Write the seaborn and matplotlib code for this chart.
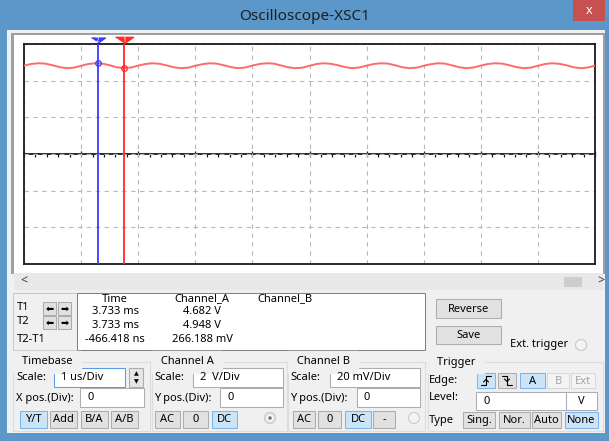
import numpy as np
import pandas as pd
import matplotlib
matplotlib.use("Agg")
import matplotlib.pyplot as plt
import matplotlib.transforms as mtransforms
from matplotlib.patches import Rectangle, Circle
import seaborn as sns

# Channel A trace, one sample every 1/8 us over the 10 screen divisions
SAMPLE_STEP_US = 0.125
chan_a_volts = [
    4.82, 4.91, 4.95, 4.93, 4.84, 4.74, 4.68, 4.71,
    4.81, 4.91, 4.95, 4.93, 4.84, 4.73, 4.68, 4.72,
    4.82, 4.91, 4.95, 4.92, 4.83, 4.73, 4.68, 4.71,
    4.81, 4.90, 4.95, 4.93, 4.84, 4.74, 4.68, 4.72,
    4.82, 4.91, 4.95, 4.93, 4.83, 4.73, 4.68, 4.71,
    4.81, 4.91, 4.95, 4.92, 4.84, 4.74, 4.68, 4.72,
    4.82, 4.91, 4.95, 4.93, 4.84, 4.73, 4.68, 4.71,
    4.81, 4.90, 4.95, 4.93, 4.83, 4.73, 4.68, 4.72,
    4.82, 4.91, 4.95, 4.93, 4.84, 4.74, 4.68, 4.71,
    4.81, 4.91, 4.95, 4.92, 4.84, 4.73, 4.68, 4.72,
    4.82,
]
time_us = np.arange(len(chan_a_volts)) * SAMPLE_STEP_US

# Cursors (T1 red, T2 blue), position on screen in us
cursor_t1_us = 1.76
cursor_t2_us = 1.29
cursor_t1_volts = 4.682
cursor_t2_volts = 4.948

# Readout table
readout_headers = ["Time", "Channel_A", "Channel_B"]
readout_rows = ["T1", "T2", "T2-T1"]
readout_time = ["3.733 ms", "3.733 ms", "-466.418 ns"]
readout_chan_a = ["4.682 V", "4.948 V", "266.188 mV"]

# Panel settings
timebase_scale = "1 us/Div"
chan_a_scale = "2  V/Div"
chan_b_scale = "20 mV/Div"
x_pos = "0"
y_pos_a = "0"
y_pos_b = "0"
trigger_level = "0"
trigger_unit = "V"

VOLTS_PER_DIV = 2
X_DIVS = 10
Y_DIVS = 6

FRAME = "#5b98c9"
PANEL = "#f0f0f0"
TRACE = "#ff6b6b"

sns.set_theme(style="white")
plt.rcParams["font.family"] = ["Noto Sans", "DejaVu Sans"]

fig = plt.figure(figsize=(6.09, 4.41), dpi=100)
fig.patch.set_facecolor(FRAME)

# background axes in pixel units for the window chrome
bg = fig.add_axes([0, 0, 1, 1])
bg.set_xlim(0, 609)
bg.set_ylim(441, 0)
bg.axis("off")


def box(x0, y0, x1, y1, fc, ec="none", lw=0.75, z=1):
    bg.add_patch(Rectangle((x0, y0), x1 - x0, y1 - y0, facecolor=fc,
                           edgecolor=ec, linewidth=lw, zorder=z))


def label(x, y, s, ha="left", color="black", size=8, z=3, **kw):
    bg.text(x, y, s, ha=ha, va="center", color=color, fontsize=size, zorder=z, **kw)


def button(x0, y0, x1, y1, s, state="normal"):
    if state == "pressed":
        fc, ec, tc = "#cce4f7", "#7eb4ea", "black"
    elif state == "disabled":
        fc, ec, tc = "#f4f4f4", "#d9d9d9", "#a6a6a6"
    else:
        fc, ec, tc = "#e1e1e1", "#adadad", "black"
    box(x0, y0, x1, y1, fc, ec, z=2)
    label((x0 + x1) / 2, (y0 + y1) / 2 + 0.5, s, ha="center", color=tc)


def entry(x0, y0, x1, y1, s, focus=False):
    box(x0, y0, x1, y1, "white", "#569de5" if focus else "#abadb3", z=2)
    label(x0 + 7, (y0 + y1) / 2, s)


def group(x0, y0, x1, y1, title):
    box(x0, y0, x1, y1, "none", "#dcdcdc", z=1)
    label(x0 + 6, y0, " " + title + " ", backgroundcolor=PANEL)


# window body
box(7, 30, 605, 433, PANEL, z=0)
label(305, 16, "Oscilloscope-XSC1", ha="center", size=11, color="#1e1e1e")
box(573, 0, 605, 21, "#c75050")
label(589, 10, "x", ha="center", color="white", size=9, fontweight="bold")

# screen surround and scrollbar
box(11, 33, 605, 274, "#a0a0a0")
box(14, 35, 603, 273, "white")
box(14, 273, 603, 290, "#e8e8e8")
label(20, 281, "<", size=9, color="#404040", fontweight="bold")
label(597, 281, ">", size=9, color="#404040", fontweight="bold")
box(564, 277, 582, 287, "#cdcdcd")

# scope screen
ax = fig.add_axes([24 / 609, 1 - 264 / 441, 571 / 609, 220 / 441])
ax.set_facecolor("white")
trace = pd.DataFrame({"time_us": time_us, "volts": chan_a_volts})
sns.lineplot(data=trace, x="time_us", y="volts", ax=ax, color=TRACE,
             linewidth=1.4, zorder=3)
ax.set_xlim(0, X_DIVS)
ax.set_ylim(-VOLTS_PER_DIV * Y_DIVS / 2, VOLTS_PER_DIV * Y_DIVS / 2)
ax.set_xticks(np.arange(0, X_DIVS + 1))
ax.set_yticks(np.arange(-Y_DIVS // 2, Y_DIVS // 2 + 1) * VOLTS_PER_DIV)
ax.tick_params(length=0, labelbottom=False, labelleft=False)
ax.grid(True, color="#b8b8b8", linestyle=(0, (4, 4)), linewidth=0.8)
ax.set_xlabel("")
ax.set_ylabel("")
for sp in ax.spines.values():
    sp.set_visible(True)
    sp.set_color("#1a1a1a")
    sp.set_linewidth(1.3)

# center axis with division ticks
mid = ax.secondary_xaxis(0.5)
mid.set_alignment("bottom")
mid.set_xticks(np.arange(0, X_DIVS + 1))
mid.set_xticks(np.arange(0, X_DIVS + 0.01, 0.2), minor=True)
mid.tick_params(which="major", direction="inout", length=5, width=0.9,
                color="#1a1a1a", labelbottom=False, labeltop=False)
mid.tick_params(which="minor", direction="out", length=2.2, width=0.9,
                color="#1a1a1a")
mid.set_xticklabels([])
for sp in mid.spines.values():
    sp.set_color("#1a1a1a")
    sp.set_linewidth(1.3)

# cursors
top = ax.get_xaxis_transform() + mtransforms.ScaledTranslation(0, 0.04, fig.dpi_scale_trans)
tri = [(-1, 0.35), (1, 0.35), (0, -0.35)]
for t, v, col, name, ms in [(cursor_t2_us, cursor_t2_volts, "#3a3aff", "2", 10),
                            (cursor_t1_us, cursor_t1_volts, "#ff2a2a", "1", 13)]:
    ax.axvline(t, color=col, linewidth=1.3, zorder=4)
    ax.plot([t], [1], marker=tri, markersize=ms, color=col, transform=top,
            clip_on=False, zorder=5)
    ax.text(t, 1, name, transform=top, ha="center", va="center",
            color="white", fontsize=4.5, fontweight="bold", zorder=6, clip_on=False)
    ax.plot([t], [v], marker="o", markersize=4, mfc="none", mec=col,
            mew=0.9, zorder=5)

# readout area
box(13, 293, 77, 350, PANEL, "#c8c8c8")
box(77, 293, 425, 350, "white", "#828282")
row_y = [311, 325, 339]
for name, y in zip(readout_rows, [308, 322, 339]):
    label(17, y, name)
for y in [308, 322]:
    for x0 in [43, 58]:
        button(x0, y - 6, x0 + 13, y + 7, "")
    label(49.5, y + 0.5, "\u2b05", ha="center", size=7, family=["DejaVu Sans"])
    label(64.5, y + 0.5, "\u27a1", ha="center", size=7, family=["DejaVu Sans"])
for x, h in zip([115, 202, 285], readout_headers):
    label(x, 299, h, ha="center")
for y, tv, av in zip(row_y, readout_time, readout_chan_a):
    label(115, y, tv, ha="center")
    label(202, y, av, ha="center")

button(436, 299, 501, 318, "Reverse")
button(436, 326, 501, 344, "Save")
label(510, 345, "Ext. trigger")
bg.add_patch(Circle((581, 345), 5.5, facecolor="#f4f4f4", edgecolor="#c8c8c8",
                    linewidth=0.8, zorder=2))

# timebase
group(13, 362, 150, 431, "Timebase")
label(16, 378, "Scale:")
entry(54, 368, 125, 387, timebase_scale, focus=True)
box(129, 368, 143, 387, "#e6e6e6", "#adadad", z=2)
label(136, 373.5, "\u25b2", ha="center", size=4.5)
label(136, 381.5, "\u25bc", ha="center", size=4.5)
label(16, 398, "X pos.(Div):")
entry(80, 388, 144, 407, x_pos)
button(20, 411, 47, 428, "Y/T", "pressed")
button(50, 411, 77, 428, "Add")
button(81, 411, 108, 428, "B/A")
button(111, 411, 138, 428, "A/B")

# channel A
group(152, 362, 287, 431, "Channel A")
label(154, 378, "Scale:")
entry(193, 368, 283, 387, chan_a_scale)
label(154, 398, "Y pos.(Div):")
entry(220, 388, 283, 407, y_pos_a)
button(155, 411, 180, 428, "AC")
button(183, 411, 208, 428, "0")
button(212, 411, 237, 428, "DC", "pressed")
bg.add_patch(Circle((270, 418), 5.5, facecolor="#e6e6e6", edgecolor="#c8c8c8",
                    linewidth=0.8, zorder=2))
bg.add_patch(Circle((270, 418), 2.5, facecolor="#6e6e6e", zorder=3))

# channel B
group(288, 362, 425, 431, "Channel B")
label(290, 378, "Scale:")
entry(330, 368, 420, 387, chan_b_scale)
label(290, 398, "Y pos.(Div):")
entry(357, 388, 420, 407, y_pos_b)
button(293, 411, 315, 428, "AC")
button(318, 411, 341, 428, "0")
button(345, 411, 371, 428, "DC", "pressed")
button(373, 411, 395, 428, "-")
bg.add_patch(Circle((414, 418), 5.5, facecolor="#f4f4f4", edgecolor="#c8c8c8",
                    linewidth=0.8, zorder=2))

# trigger
group(428, 362, 603, 431, "Trigger")
label(429, 380, "Edge:")
button(477, 373, 495, 388, "", "pressed")
button(498, 373, 516, 388, "")
bg.plot([481, 486, 486, 491], [385, 385, 376, 376], color="black", lw=0.8, zorder=3)
bg.plot([483.5, 486, 488.5], [382, 379.5, 382], color="black", lw=0.8, zorder=3)
bg.plot([502, 507, 507, 512], [376, 376, 385, 385], color="black", lw=0.8, zorder=3)
bg.plot([504.5, 507, 509.5], [379, 381.5, 379], color="black", lw=0.8, zorder=3)
button(520, 373, 545, 388, "A", "pressed")
button(547, 373, 569, 388, "B", "disabled")
button(571, 373, 595, 388, "Ext", "disabled")
label(429, 398, "Level:")
entry(476, 392, 566, 410, trigger_level)
entry(566, 392, 597, 410, "")
label(581, 401, trigger_unit, ha="center")
label(429, 420, "Type")
button(463, 412, 495, 428, "Sing.")
button(499, 412, 530, 428, "Nor.")
button(532, 412, 561, 428, "Auto")
button(565, 412, 598, 428, "None", "pressed")

fig.savefig("out.png", dpi=100, facecolor=fig.get_facecolor())
